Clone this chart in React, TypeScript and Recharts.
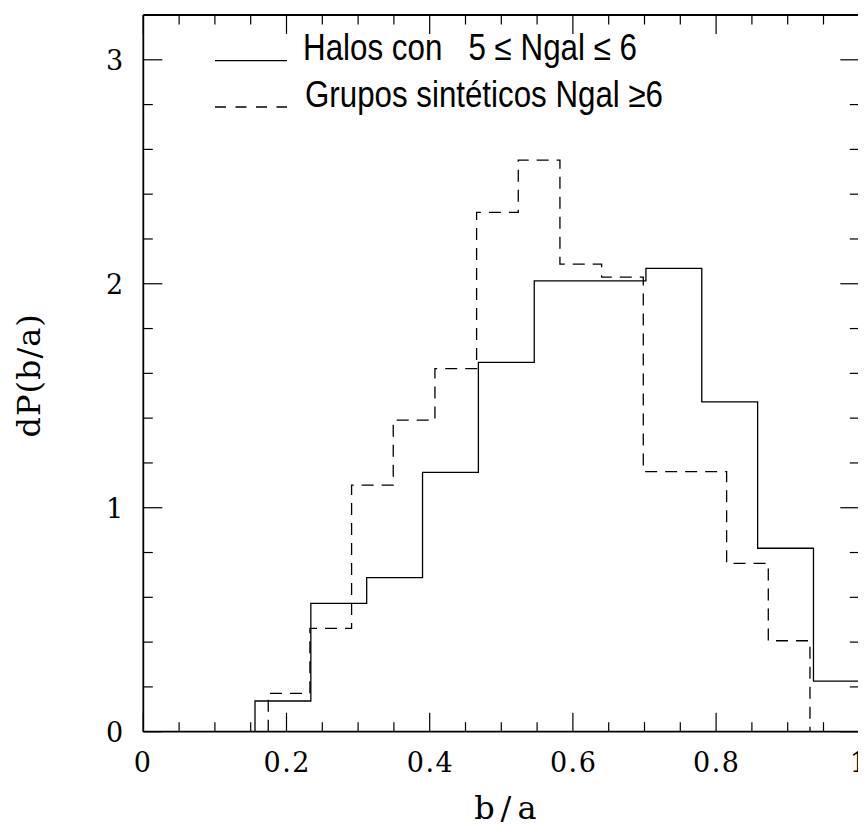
import { LineChart, Line, XAxis, YAxis, Legend } from 'recharts';

// histogram bin edges and heights
const solidEdges = [0.156, 0.234, 0.312, 0.39, 0.468, 0.546, 0.624, 0.702, 0.78, 0.858, 0.936, 1.014];
const solidValues = [0.137, 0.573, 0.688, 1.158, 1.649, 2.013, 2.013, 2.069, 1.473, 0.819, 0.226];

const dashedEdges = [0.1745, 0.2327, 0.2909, 0.3491, 0.4073, 0.4655, 0.5237, 0.5819, 0.6401, 0.6983, 0.7565, 0.8147, 0.8729, 0.9311];
const dashedValues = [0.171, 0.461, 1.101, 1.391, 1.621, 2.319, 2.552, 2.088, 2.03, 1.161, 1.161, 0.752, 0.406];

const xTicks = [0, 0.05, 0.1, 0.15, 0.2, 0.25, 0.3, 0.35, 0.4, 0.45, 0.5, 0.55, 0.6, 0.65, 0.7, 0.75, 0.8, 0.85, 0.9, 0.95, 1];
const xMajor = [0, 0.2, 0.4, 0.6, 0.8, 1];
const yTicks = [0, 0.2, 0.4, 0.6, 0.8, 1, 1.2, 1.4, 1.6, 1.8, 2, 2.2, 2.4, 2.6, 2.8, 3, 3.2];
const yMajor = [0, 1, 2, 3];

const legendLabels = ['Halos con   5 ≤ Ngal ≤ 6', 'Grupos sintéticos Ngal ≥6'];

const SERIF = "'DejaVu Serif', serif";
const SANS = "'Liberation Sans', Arial, sans-serif";

function toSteps(edges: number[], values: number[]) {
  const pts = [{ x: edges[0], y: 0 }];
  values.forEach((v, i) => pts.push({ x: edges[i], y: v }));
  pts.push({ x: edges[edges.length - 1], y: 0 });
  return pts;
}

const isMajor = (v: number, majors: number[]) => majors.some((m) => Math.abs(m - v) < 1e-9);

function BottomTick({ x, y, payload }: any) {
  const major = isMajor(payload.value, xMajor);
  const label = String(payload.value);
  const multi = label.length > 1;
  return (
    <g>
      <line x1={x} y1={y} x2={x} y2={y - (major ? 19 : 9.5)} stroke="#000" strokeWidth={1.2} />
      {major && (
        <text
          x={multi ? x + 0.75 : x - 1}
          y={y + 40}
          textAnchor="middle"
          fontFamily={SERIF}
          fontSize={27}
          letterSpacing={multi ? 1.5 : 0}
          fill="#000"
        >
          {label}
        </text>
      )}
    </g>
  );
}

function TopTick({ x, y, payload }: any) {
  const major = isMajor(payload.value, xMajor);
  return <line x1={x} y1={y} x2={x} y2={y + (major ? 19 : 9.5)} stroke="#000" strokeWidth={1.2} />;
}

function LeftTick({ x, y, payload }: any) {
  const major = isMajor(payload.value, yMajor);
  return (
    <g>
      <line x1={x} y1={y} x2={x + (major ? 19 : 9.5)} y2={y} stroke="#000" strokeWidth={1.2} />
      {major && (
        <text x={x - 20} y={y + 10} textAnchor="end" fontFamily={SERIF} fontSize={27} fill="#000">
          {payload.value}
        </text>
      )}
    </g>
  );
}

function RightTick({ x, y, payload }: any) {
  const major = isMajor(payload.value, yMajor);
  return <line x1={x} y1={y} x2={x - (major ? 19 : 9.5)} y2={y} stroke="#000" strokeWidth={1.2} />;
}

function XTitle({ viewBox }: any) {
  const { x, y, width } = viewBox;
  return (
    <text x={x + width / 2 + 7} y={y + 87} textAnchor="middle" fontFamily={SERIF} fontSize={32} letterSpacing={6} fill="#000">
      b/a
    </text>
  );
}

function YTitle({ viewBox }: any) {
  const { x, y, height } = viewBox;
  const cx = x - 102;
  const cy = y + height / 2 + 2;
  return (
    <text x={cx} y={cy} transform={`rotate(-90, ${cx}, ${cy})`} textAnchor="middle" fontFamily={SERIF} fontSize={32} letterSpacing={1} fill="#000">
      dP(b/a)
    </text>
  );
}

function LegendBox() {
  return (
    <svg width={600} height={90} style={{ overflow: 'visible' }}>
      <line x1={10} x2={82} y1={30.7} y2={30.7} stroke="#000" strokeWidth={1.3} />
      <text x={98} y={30} fontFamily={SANS} fontSize={36} textLength={334} lengthAdjust="spacingAndGlyphs" style={{ whiteSpace: 'pre' }} fill="#000">
        {legendLabels[0]}
      </text>
      <line x1={10} x2={82} y1={77} y2={77} stroke="#000" strokeWidth={1.3} strokeDasharray="11 9.5" />
      <text x={100} y={77} fontFamily={SANS} fontSize={36} textLength={358} lengthAdjust="spacingAndGlyphs" style={{ whiteSpace: 'pre' }} fill="#000">
        {legendLabels[1]}
      </text>
    </svg>
  );
}

export default function App() {
  const solid = toSteps(solidEdges, solidValues);
  const dashed = toSteps(dashedEdges, dashedValues);
  const frame = { stroke: '#000', strokeWidth: 1.8 };

  return (
    <div style={{ position: 'relative', width: 858, height: 818 }}>
      <LineChart width={858} height={818} margin={{ top: 6, right: 5.7, bottom: 93.3, left: 134.3 }}>
        <XAxis
          xAxisId="b"
          dataKey="x"
          type="number"
          domain={[0, 1]}
          allowDataOverflow
          ticks={xTicks}
          interval={0}
          height={1}
          tickSize={0}
          tickMargin={0}
          tickLine={false}
          axisLine={frame}
          tick={(p: any) => <BottomTick {...p} />}
          label={<XTitle />}
        />
        <XAxis
          xAxisId="t"
          orientation="top"
          dataKey="x"
          type="number"
          domain={[0, 1]}
          allowDataOverflow
          ticks={xTicks}
          interval={0}
          height={1}
          tickSize={0}
          tickMargin={0}
          tickLine={false}
          axisLine={frame}
          tick={(p: any) => <TopTick {...p} />}
        />
        <YAxis
          yAxisId="l"
          type="number"
          domain={[0, 3.2]}
          allowDataOverflow
          ticks={yTicks}
          interval={0}
          width={1}
          tickSize={0}
          tickMargin={0}
          tickLine={false}
          axisLine={frame}
          tick={(p: any) => <LeftTick {...p} />}
          label={<YTitle />}
        />
        <YAxis
          yAxisId="r"
          orientation="right"
          type="number"
          domain={[0, 3.2]}
          allowDataOverflow
          ticks={yTicks}
          interval={0}
          width={1}
          tickSize={0}
          tickMargin={0}
          tickLine={false}
          axisLine={frame}
          tick={(p: any) => <RightTick {...p} />}
        />
        <Legend
          layout="horizontal"
          verticalAlign="middle"
          align="center"
          wrapperStyle={{ left: 197, top: 22, width: 600, height: 90 }}
          content={() => <LegendBox />}
        />
        <Line
          xAxisId="b"
          yAxisId="l"
          data={solid}
          dataKey="y"
          type="stepAfter"
          stroke="#000"
          strokeWidth={1.3}
          dot={false}
          activeDot={false}
          isAnimationActive={false}
        />
        <Line
          xAxisId="b"
          yAxisId="l"
          data={dashed}
          dataKey="y"
          type="stepAfter"
          stroke="#000"
          strokeWidth={1.3}
          strokeDasharray="12 8"
          dot={false}
          activeDot={false}
          isAnimationActive={false}
        />
      </LineChart>
    </div>
  );
}
